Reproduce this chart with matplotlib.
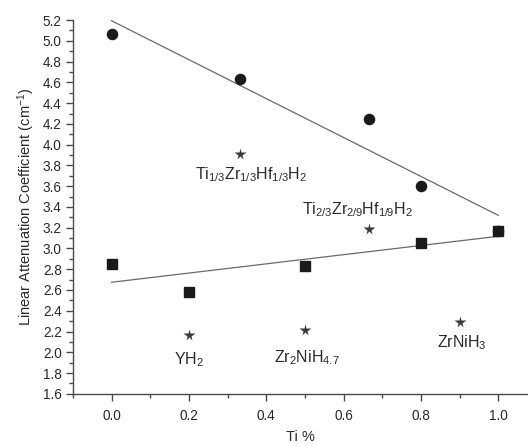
import numpy as np
import matplotlib
matplotlib.use("Agg")
import matplotlib.pyplot as plt
from matplotlib.ticker import MultipleLocator

plt.rcParams['font.family'] = ['Liberation Sans', 'DejaVu Sans']
plt.rcParams['mathtext.fontset'] = 'custom'
plt.rcParams['mathtext.rm'] = 'Liberation Sans'
plt.rcParams['mathtext.it'] = 'Liberation Sans'
plt.rcParams['mathtext.default'] = 'regular'

# circles (upper series)
circ_x = [0.0, 0.333, 0.667, 0.8, 1.0]
circ_y = [5.07, 4.63, 4.25, 3.60, 3.17]

# squares (lower series)
sq_x = [0.0, 0.2, 0.5, 0.8, 1.0]
sq_y = [2.85, 2.58, 2.83, 3.05, 3.17]

# stars (other hydrides)
star_x = [0.2, 0.333, 0.5, 0.667, 0.9]
star_y = [2.17, 3.91, 2.21, 3.19, 2.29]
star_labels = ['YH$_2$', 'Ti$_{1/3}$Zr$_{1/3}$Hf$_{1/3}$H$_2$', 'Zr$_2$NiH$_{4.7}$',
               'Ti$_{2/3}$Zr$_{2/9}$Hf$_{1/9}$H$_2$', 'ZrNiH$_3$']
label_pos = [(0.2, 1.93), (0.361, 3.71), (0.505, 1.95), (0.637, 3.37), (0.906, 2.09)]

fig = plt.figure(figsize=(5.28, 4.46), dpi=100)
ax = fig.add_axes([0.138, 0.117, 0.862, 0.838])

# linear fits through each series
xx = np.array([0.0, 1.0])
for xs, ys in [(circ_x, circ_y), (sq_x, sq_y)]:
    k, b = np.polyfit(xs, ys, 1)
    ax.plot(xx, k * xx + b, color='#6a6a6a', lw=0.9, zorder=1)

ax.plot(sq_x, sq_y, 's', color='#1a1a1a', ms=6.5, zorder=3)
ax.plot(circ_x, circ_y, 'o', color='#1a1a1a', ms=7.3, zorder=4)
ax.plot(star_x, star_y, '*', color='#3a3a3a', ms=8.5, mec='none', zorder=3)

for (lx, ly), txt in zip(label_pos, star_labels):
    ax.text(lx, ly, txt, ha='center', va='center', fontsize=11.5, color='#2a2a2a')

ax.set_xlim(-0.1, 1.077)
ax.set_ylim(1.6, 5.2)
ax.xaxis.set_major_locator(MultipleLocator(0.2))
ax.xaxis.set_minor_locator(MultipleLocator(0.1))
ax.yaxis.set_major_locator(MultipleLocator(0.2))
ax.yaxis.set_minor_locator(MultipleLocator(0.1))
ax.xaxis.set_major_formatter(plt.FuncFormatter(lambda v, p: f'{v:.1f}'))
ax.yaxis.set_major_formatter(plt.FuncFormatter(lambda v, p: f'{v:.1f}'))

for s in ['top', 'right']:
    ax.spines[s].set_visible(False)
for s in ['left', 'bottom']:
    ax.spines[s].set_color('#4a4a4a')
    ax.spines[s].set_linewidth(1.0)

ax.tick_params(which='major', direction='out', length=5, width=1, color='#4a4a4a',
               labelsize=9.8, labelcolor='#2a2a2a', pad=3)
ax.tick_params(which='minor', direction='out', length=3, width=1, color='#4a4a4a')
ax.tick_params(axis='x', pad=6)

ax.set_xlabel('Ti %', fontsize=10.5, color='#2a2a2a', labelpad=5)
ax.set_ylabel('Linear Attenuation Coefficient (cm$^{-1}$)', fontsize=10.5, color='#2a2a2a', labelpad=4)

fig.savefig('out.png', dpi=100)
